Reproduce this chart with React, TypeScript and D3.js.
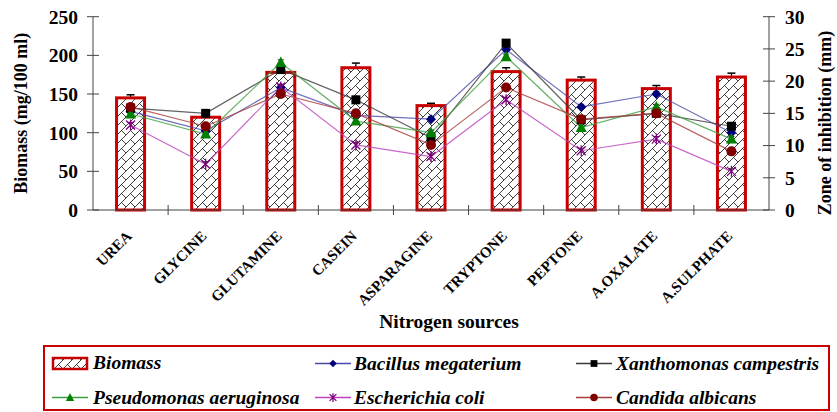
import { useEffect } from "react"
import * as d3 from "d3"

const categories = ["UREA", "GLYCINE", "GLUTAMINE", "CASEIN", "ASPARAGINE", "TRYPTONE", "PEPTONE", "A.OXALATE", "A.SULPHATE"]
const biomass = [145, 120, 178, 184, 135, 179, 168, 157, 172]
const biomassErr = [4, 2, 3, 6, 3, 5, 4, 4, 5]

const bacillus = [15.3, 12.3, 19.0, 14.7, 14.1, 24.9, 16.0, 18.0, 12.0]
const xanthomonas = [15.8, 15.0, 21.8, 17.1, 11.2, 25.9, 14.0, 15.0, 13.0]
const pseudomonas = [14.9, 11.8, 22.9, 13.8, 12.0, 23.8, 12.8, 16.0, 11.0]
const ecoli = [13.2, 7.1, 19.1, 10.1, 8.3, 17.1, 9.2, 11.0, 6.0]
const candida = [16.0, 13.0, 18.0, 15.0, 10.1, 19.0, 14.1, 15.0, 9.1]
const zoneErr = 0.4

const leftTicks = [0, 50, 100, 150, 200, 250]
const rightTicks = [0, 5, 10, 15, 20, 25, 30]

type Series = { name: string; values: number[]; line: string; mark: string; shape: string }

const series: Series[] = [
  { name: "Bacillus megaterium", values: bacillus, line: "#4a4aa8", mark: "#00007a", shape: "diamond" },
  { name: "Xanthomonas campestris", values: xanthomonas, line: "#3a3a3a", mark: "#000000", shape: "square" },
  { name: "Pseudomonas aeruginosa", values: pseudomonas, line: "#3f9f3f", mark: "#008000", shape: "triangle" },
  { name: "Escherichia coli", values: ecoli, line: "#bb44bb", mark: "#800080", shape: "star" },
  { name: "Candida albicans", values: candida, line: "#a83c3c", mark: "#800000", shape: "circle" },
]

const FONT = "Liberation Serif"
const RED = "#c80000"

function Marker({ shape, x, y, color, size = 1 }: { shape: string; x: number; y: number; color: string; size?: number }) {
  if (shape === "square") return <rect x={x - 4.5 * size} y={y - 4.5 * size} width={9 * size} height={9 * size} fill={color} />
  if (shape === "circle") return <circle cx={x} cy={y} r={5 * size} fill={color} />
  if (shape === "triangle")
    return <path d={`M${x},${y - 6 * size}L${x + 5.5 * size},${y + 4.5 * size}L${x - 5.5 * size},${y + 4.5 * size}Z`} fill={color} />
  if (shape === "diamond")
    return <path d={`M${x},${y - 5 * size}L${x + 5 * size},${y}L${x},${y + 5 * size}L${x - 5 * size},${y}Z`} fill={color} />
  const r = 4.5 * size
  return (
    <path
      d={`M${x - r},${y - r}L${x + r},${y + r}M${x - r},${y + r}L${x + r},${y - r}M${x},${y - r - 1}L${x},${y + r + 1}`}
      stroke={color}
      strokeWidth={1.3}
      fill="none"
    />
  )
}

export default function App() {
  useEffect(() => {
    document.body.style.margin = "0"
  }, [])

  const left = 93
  const right = 769
  const top = 16.7
  const bottom = 210

  const x = d3.scaleBand().domain(categories).range([left, right])
  const yL = d3.scaleLinear().domain([0, 250]).range([bottom, top])
  const yR = d3.scaleLinear().domain([0, 30]).range([bottom, top])
  const bw = 28
  const cx = (c: string) => (x(c) as number) + x.bandwidth() / 2

  const line = (vals: number[]) =>
    d3.line<number>().x((_, i) => cx(categories[i])).y(d => yR(d))(vals) as string

  const boundaries = d3.range(1, categories.length).map(i => left + i * x.bandwidth())

  return (
    <svg width={837} height={412} style={{ display: "block", background: "#fff", fontFamily: FONT }}>
      <defs>
        <pattern id="brick" width={9} height={9} patternUnits="userSpaceOnUse">
          <rect width={9} height={9} fill="#fff" />
          <path d="M0,9L9,0M-1,1L1,-1M8,10L10,8M4.5,4.5L9,9" stroke="#000" strokeWidth={0.75} fill="none" />
        </pattern>
      </defs>

      {/* bars */}
      {categories.map((c, i) => (
        <g key={c}>
          <line x1={cx(c)} x2={cx(c)} y1={yL(biomass[i])} y2={yL(biomass[i] + biomassErr[i])} stroke="#000" strokeWidth={1.2} />
          <line x1={cx(c) - 4} x2={cx(c) + 4} y1={yL(biomass[i] + biomassErr[i])} y2={yL(biomass[i] + biomassErr[i])} stroke="#000" strokeWidth={1.5} />
          <rect
            x={cx(c) - bw / 2}
            y={yL(biomass[i])}
            width={bw}
            height={bottom - yL(biomass[i])}
            fill="url(#brick)"
            stroke={RED}
            strokeWidth={3}
          />
        </g>
      ))}

      {/* lines */}
      {series.map(s => (
        <path key={s.name} d={line(s.values)} fill="none" stroke={s.line} strokeWidth={1.2} strokeOpacity={0.8} />
      ))}
      {series.map(s =>
        s.values.map((v, i) => (
          <g key={s.name + i}>
            <line x1={cx(categories[i])} x2={cx(categories[i])} y1={yR(v)} y2={yR(v + zoneErr)} stroke="#222" strokeWidth={0.8} />
            <line x1={cx(categories[i]) - 3} x2={cx(categories[i]) + 3} y1={yR(v + zoneErr)} y2={yR(v + zoneErr)} stroke="#222" strokeWidth={1} />
            <Marker shape={s.shape} x={cx(categories[i])} y={yR(v)} color={s.mark} />
          </g>
        ))
      )}

      {/* axes */}
      <g stroke="#444" strokeWidth={1}>
        <line x1={left} x2={left} y1={top} y2={bottom} />
        <line x1={right} x2={right} y1={top} y2={bottom} />
        <line x1={left} x2={right} y1={bottom} y2={bottom} />
        {leftTicks.map(t => (
          <line key={"l" + t} x1={left - 6} x2={left + 6} y1={yL(t)} y2={yL(t)} />
        ))}
        {rightTicks.map(t => (
          <line key={"r" + t} x1={right - 6} x2={right + 6} y1={yR(t)} y2={yR(t)} />
        ))}
        {boundaries.map(b => (
          <line key={"b" + b} x1={b} x2={b} y1={bottom - 5} y2={bottom + 5} />
        ))}
      </g>
      <g fontWeight="bold" fontSize={19.5} fill="#000">
        {leftTicks.map(t => (
          <text key={"lt" + t} x={left - 15} y={yL(t)} dy="0.35em" textAnchor="end">{t}</text>
        ))}
        {rightTicks.map(t => (
          <text key={"rt" + t} x={right + 16} y={yR(t)} dy="0.35em">{t}</text>
        ))}
      </g>
      <g fontWeight="bold" fontSize={15} fill="#000">
        {categories.map(c => (
          <text key={"xt" + c} transform={`translate(${cx(c) + 2},${bottom + 27}) rotate(-45)`} textAnchor="end">{c}</text>
        ))}
      </g>

      {/* titles */}
      <text transform={`translate(27,${(top + bottom) / 2}) rotate(-90)`} textAnchor="middle" fontWeight="bold" fontSize={18}>
        Biomass (mg/100 ml)
      </text>
      <text transform={`translate(831,123) rotate(-90)`} textAnchor="middle" fontWeight="bold" fontSize={18}>
        Zone of inhibition (mm)
      </text>
      <text x={449} y={328} textAnchor="middle" fontWeight="bold" fontSize={19.5}>Nitrogen sources</text>

      {/* legend */}
      <rect x={44} y={346} width={785} height={64} fill="#fff" stroke={RED} strokeWidth={2} />
      <rect x={53} y={358} width={34} height={11} fill="url(#brick)" stroke={RED} strokeWidth={2.5} />
      <g fontWeight="bold" fontStyle="italic" fontSize={19.5}>
        <text x={93} y={369}>Biomass</text>
        {series.map((s, i) => {
          const pos = i + 1
          const col = pos % 3
          const row = Math.floor(pos / 3)
          const lx = [52, 315, 576][col]
          const tx = [93, 354, 616][col]
          const ly = row === 0 ? 363.5 : 397.5
          return (
            <g key={"lg" + s.name}>
              <line x1={lx} x2={lx + 36} y1={ly} y2={ly} stroke={s.line} strokeWidth={1.3} />
              <Marker shape={s.shape} x={lx + 18} y={ly} color={s.mark} size={0.75} />
              <text x={tx} y={ly + 6}>{s.name}</text>
            </g>
          )
        })}
      </g>
    </svg>
  )
}
